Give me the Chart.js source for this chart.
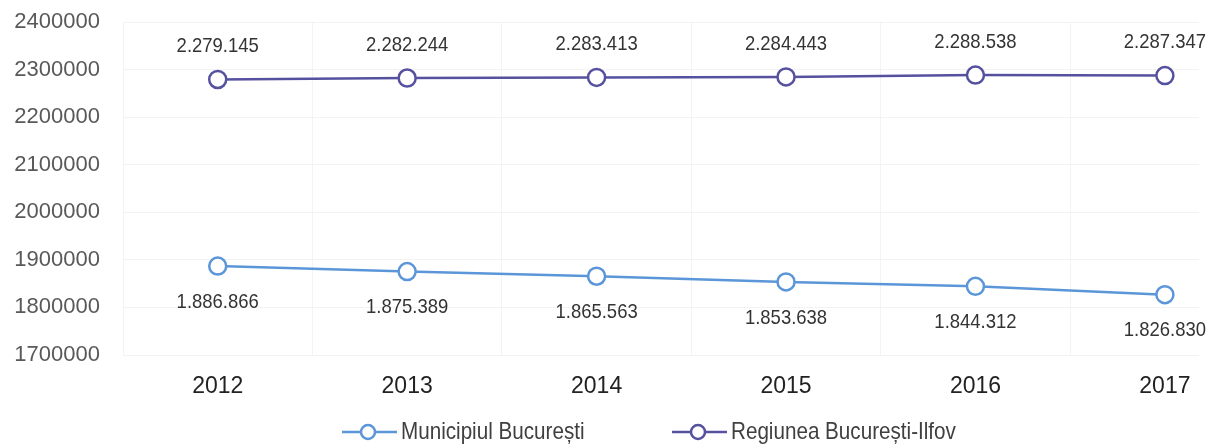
<!DOCTYPE html>
<html>
<head>
<meta charset="utf-8">
<script src="https://cdn.jsdelivr.net/npm/chart.js@4.4.0/dist/chart.umd.min.js"></script>
<style>
  html, body { margin: 0; padding: 0; background: #fff; }
  #wrap { width: 1210px; height: 444px; }
</style>
</head>
<body>
<div id="wrap"><canvas id="myChart" width="1210" height="444"></canvas></div>
<script>
const years = [2012, 2013, 2014, 2015, 2016, 2017];
const municipiul = [1886866, 1875389, 1865563, 1853638, 1844312, 1826830];
const regiunea = [2279145, 2282244, 2283413, 2284443, 2288538, 2287347];
const seriesNames = ['Municipiul București', 'Regiunea București-Ilfov'];
const yTicks = [1700000, 1800000, 1900000, 2000000, 2100000, 2200000, 2300000, 2400000];

const blue = '#5b96d8';
const purple = '#55519f';
const sans = '"Liberation Sans", Arial, sans-serif';

function fmt(v) {
    return String(v).replace(/\B(?=(\d{3})+(?!\d))/g, '.');
}

// squeezed text, the original uses a narrow face
function narrowText(ctx, text, x, y, squeeze) {
    ctx.save();
    ctx.translate(x, y);
    ctx.scale(squeeze, 1);
    ctx.fillText(text, 0, 0);
    ctx.restore();
}

// value labels: lower series below points, upper series above
const valueLabels = {
    id: 'valueLabels',
    afterDatasetsDraw(chart) {
        const ctx = chart.ctx;
        ctx.save();
        ctx.font = '21px ' + sans;
        ctx.fillStyle = '#333';
        ctx.textAlign = 'center';
        ctx.textBaseline = 'middle';
        chart.data.datasets.forEach((ds, i) => {
            const meta = chart.getDatasetMeta(i);
            meta.data.forEach((pt, j) => {
                const dy = i === 0 ? 36 : -33;
                narrowText(ctx, fmt(ds.data[j].y), pt.x, pt.y + dy, 0.88);
            });
        });
        ctx.restore();
    }
};

// legend with line + circle marker
const lineLegend = {
    id: 'lineLegend',
    afterDraw(chart) {
        const ctx = chart.ctx;
        const y = 432;
        const items = [
            { x: 342, color: blue, text: seriesNames[0] },
            { x: 672, color: purple, text: seriesNames[1] }
        ];
        ctx.save();
        ctx.font = '24px ' + sans;
        ctx.textBaseline = 'middle';
        items.forEach(it => {
            ctx.strokeStyle = it.color;
            ctx.lineWidth = 2.5;
            ctx.beginPath();
            ctx.moveTo(it.x, y);
            ctx.lineTo(it.x + 55, y);
            ctx.stroke();
            ctx.beginPath();
            ctx.arc(it.x + 26, y, 7, 0, Math.PI * 2);
            ctx.fillStyle = '#fff';
            ctx.fill();
            ctx.stroke();
            ctx.fillStyle = '#404040';
            narrowText(ctx, it.text, it.x + 59, y, 0.86);
        });
        ctx.restore();
    }
};

function makeSet(label, values, color) {
    return {
        label: label,
        data: years.map((yr, k) => ({ x: yr, y: values[k] })),
        borderColor: color,
        backgroundColor: '#fff',
        borderWidth: 2.5,
        pointRadius: 8.5,
        pointHoverRadius: 8.5,
        pointBorderWidth: 2.5,
        pointBackgroundColor: '#fff',
        pointBorderColor: color,
        tension: 0
    };
}

const ctx = document.getElementById('myChart').getContext('2d');
new Chart(ctx, {
    type: 'line',
    data: {
        datasets: [
            makeSet(seriesNames[0], municipiul, blue),
            makeSet(seriesNames[1], regiunea, purple)
        ]
    },
    options: {
        responsive: false,
        animation: false,
        layout: { padding: { top: 22, right: 10, bottom: 30, left: 0 } },
        plugins: {
            legend: { display: false },
            tooltip: { enabled: false }
        },
        scales: {
            x: {
                type: 'linear',
                min: 2011.5,
                max: 2017.18,
                afterBuildTicks(scale) {
                    const t = [];
                    for (let v = 2011.5; v <= 2017.2; v += 0.5) t.push({ value: v });
                    scale.ticks = t;
                },
                afterFit(scale) { scale.height = 59; },
                border: { display: false },
                grid: {
                    drawTicks: false,
                    color: c => (c.tick && c.tick.value % 1 !== 0) ? '#f3f3f3' : 'rgba(0,0,0,0)'
                },
                ticks: {
                    autoSkip: false,
                    maxRotation: 0,
                    padding: 18,
                    color: '#222',
                    font: { family: sans, size: 23 },
                    callback: v => (v % 1 === 0 ? String(v) : '')
                }
            },
            y: {
                min: yTicks[0],
                max: yTicks[yTicks.length - 1],
                afterBuildTicks(scale) { scale.ticks = yTicks.map(v => ({ value: v })); },
                afterFit(scale) {
                    scale.width = 123;
                    scale.paddingTop = 0;
                    scale.paddingBottom = 0;
                },
                border: { display: false },
                grid: { drawTicks: false, color: '#f3f3f3' },
                ticks: {
                    padding: 23,
                    color: '#595959',
                    font: { family: sans, size: 22 },
                    callback: v => String(v)
                }
            }
        }
    },
    plugins: [valueLabels, lineLegend]
});
</script>
</body>
</html>
